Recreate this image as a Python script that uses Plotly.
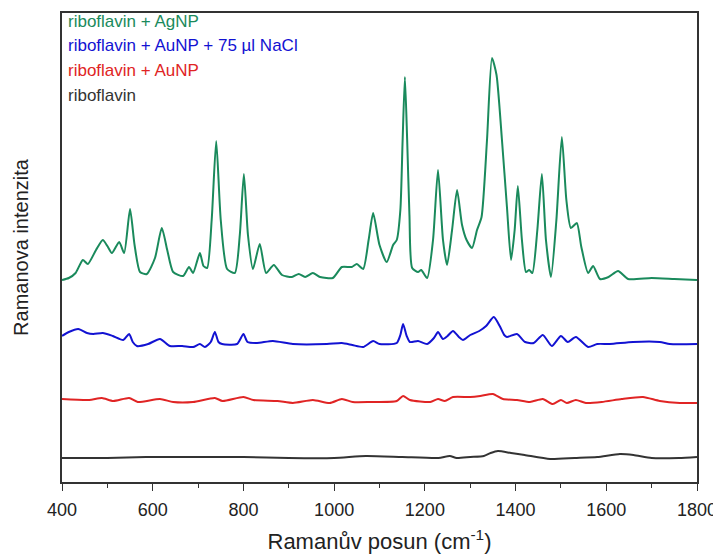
import plotly.graph_objects as go

# Raman shift (cm^-1) and intensities (arbitrary units)
agnp_x = [400, 415, 430, 446, 457, 475, 490, 500, 510, 526, 537, 550, 560, 572, 587, 605, 620, 632, 645, 667,
          680, 689, 704, 712, 720, 730, 740, 750, 764, 781, 792, 801, 810, 821, 836, 850, 867, 885, 907, 922,
          936, 953, 969, 997, 1017, 1039, 1050, 1064, 1076, 1086, 1100, 1116, 1130, 1138, 1146, 1151, 1156, 1161,
          1166, 1172, 1185, 1192, 1205, 1218, 1229, 1240, 1249, 1260, 1271, 1282, 1292, 1304, 1315, 1325, 1337,
          1348, 1358, 1370, 1381, 1390, 1398, 1405, 1414, 1423, 1430, 1437, 1448, 1458, 1467, 1478, 1490, 1502,
          1512, 1522, 1535, 1545, 1560, 1571, 1586, 1605, 1626, 1648, 1700, 1750, 1800]
agnp_y = [202, 204, 209, 222, 218, 232, 242, 236, 229, 240, 229, 273, 237, 210, 208, 224, 254, 232, 210, 206,
          215, 209, 229, 216, 214, 262, 341, 262, 213, 209, 247, 308, 247, 213, 238, 209, 217, 207, 205, 208,
          205, 209, 205, 204, 215, 215, 218, 213, 242, 269, 237, 220, 237, 242, 272, 342, 405, 342,
          267, 214, 210, 212, 204, 242, 312, 242, 217, 252, 292, 257, 242, 234, 252, 265, 342,
          424, 407, 342, 275, 222, 252, 296, 242, 210, 212, 209, 252, 308, 242, 205, 262, 345,
          282, 254, 259, 235, 209, 216, 203, 205, 211, 203, 204, 203, 202]

aunp_nacl_x = [400, 415, 436, 455, 469, 490, 512, 535, 548, 556, 565, 590, 616, 638, 665, 689, 704, 715, 728, 737,
               745, 753, 786, 800, 809, 830, 865, 909, 984, 1017, 1040, 1064, 1086, 1100, 1138, 1146, 1152, 1160,
               1167, 1185, 1205, 1220, 1229, 1240, 1250, 1262, 1275, 1284, 1300, 1320, 1335, 1352, 1365, 1375,
               1381, 1403, 1421, 1440, 1460, 1480, 1500, 1515, 1533, 1560, 1580, 1608, 1659, 1718, 1740, 1800]
aunp_nacl_y = [146, 150, 153, 149, 148, 149, 146, 142, 148, 140, 136, 138, 143, 136, 136, 135, 138, 135, 140, 150,
               140, 138, 138, 148, 140, 139, 141, 138, 138, 139, 137, 135, 141, 138, 139, 147, 158, 146,
               140, 141, 138, 144, 150, 143, 146, 151, 145, 142, 147, 151, 156, 165, 156, 147,
               145, 148, 140, 139, 147, 136, 146, 140, 145, 135, 138, 138, 140, 140, 138, 138]

aunp_x = [400, 460, 488, 513, 548, 567, 616, 645, 689, 737, 754, 800, 822, 875, 909, 953, 990, 1017, 1041, 1079,
          1138, 1152, 1167, 1212, 1229, 1244, 1262, 1300, 1322, 1350, 1372, 1403, 1432, 1460, 1482, 1500, 1513,
          1533, 1555, 1590, 1634, 1681, 1718, 1762, 1800]
aunp_y = [83, 82, 84, 81, 84, 80, 83, 80, 80, 84, 81, 85, 82, 81, 79, 82, 79, 83, 80, 80,
          81, 86, 82, 80, 83, 81, 85, 85, 86, 88, 83, 82, 80, 83, 78, 82, 79,
          82, 79, 80, 83, 85, 81, 79, 79]

ribo_x = [400, 500, 585, 700, 800, 900, 1000, 1070, 1150, 1230, 1255, 1270, 1300, 1330, 1345, 1361, 1390, 1420,
          1476, 1530, 1580, 1630, 1660, 1700, 1760, 1800]
ribo_y = [24, 24, 25, 25, 25, 24, 24, 26, 25, 24, 26, 24, 25, 26, 29, 31, 29, 27,
          23, 24, 25, 28, 27, 24, 24, 25]

labels = ["riboflavin + AgNP", "riboflavin + AuNP + 75 µl NaCl", "riboflavin + AuNP", "riboflavin"]
colors = ["#1a8a5c", "#1212d2", "#e02424", "#333333"]
xs = [agnp_x, aunp_nacl_x, aunp_x, ribo_x]
ys = [agnp_y, aunp_nacl_y, aunp_y, ribo_y]
tick_vals = [400, 600, 800, 1000, 1200, 1400, 1600, 1800]

fig = go.Figure()
for x, y, c, name in zip(xs, ys, colors, labels):
    fig.add_trace(go.Scatter(x=x, y=y, mode="lines", name=name,
                             line=dict(color=c, width=2, shape="spline", smoothing=0.6),
                             showlegend=False))

legend_y = [0.981, 0.930, 0.878, 0.824]
for name, c, ly in zip(labels, colors, legend_y):
    fig.add_annotation(text=name, x=0.006, y=ly, xref="paper", yref="paper",
                       xanchor="left", yanchor="middle", showarrow=False,
                       font=dict(size=17, color=c, family="Liberation Sans, Arial, sans-serif"))

fig.update_layout(
    width=713, height=549,
    margin=dict(l=54, r=24, t=5, b=75),
    paper_bgcolor="white", plot_bgcolor="white",
    font=dict(family="Liberation Sans, Arial, sans-serif", color="#222222"),
)
fig.update_xaxes(
    range=[400, 1800], tickvals=tick_vals, ticks="outside", ticklen=7, tickwidth=1.3, tickcolor="#333",
    showline=True, linecolor="#333", linewidth=1.5, mirror=True, showgrid=False, zeroline=False,
    tickfont=dict(size=18, color="#222"), automargin=False, ticklabelstandoff=4,
    minor=dict(dtick=100, ticks="outside", ticklen=4, tickwidth=1.2, tickcolor="#333", showgrid=False),
    title=dict(text="Ramanův posun (cm<sup>-1</sup>)", font=dict(size=22, color="#222"), standoff=14),
)
fig.update_yaxes(
    range=[0, 469], showticklabels=False, ticks="", showgrid=False, zeroline=False, automargin=False,
    showline=True, linecolor="#333", linewidth=1.5, mirror=True,
    title=dict(text="Ramanova intenzita", font=dict(size=20, color="#222"), standoff=26),
)

fig.write_html("out.html")
